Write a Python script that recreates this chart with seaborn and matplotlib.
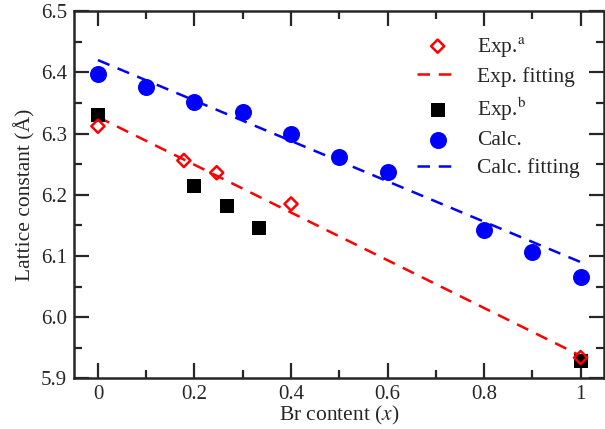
import numpy as np
import pandas as pd
import matplotlib
matplotlib.use("Agg")
import matplotlib.pyplot as plt
import seaborn as sns
from matplotlib.ticker import MultipleLocator

# data
exp_a_x = [0.0, 0.178, 0.246, 0.4, 1.0]
exp_a_y = [6.312, 6.256, 6.236, 6.185, 5.934]
exp_fit_x = [0.0, 1.0]
exp_fit_y = [6.327, 5.937]
exp_b_x = [0.0, 0.2, 0.267, 0.333, 1.0]
exp_b_y = [6.330, 6.214, 6.181, 6.145, 5.928]
calc_x = [0.0, 0.1, 0.2, 0.3, 0.4, 0.5, 0.6, 0.8, 0.9, 1.0]
calc_y = [6.397, 6.376, 6.351, 6.335, 6.300, 6.261, 6.237, 6.142, 6.106, 6.065]
calc_fit_x = [0.0, 1.0]
calc_fit_y = [6.420, 6.090]

sns.set_style("ticks")
plt.rcParams['font.family'] = ['Liberation Serif', 'DejaVu Serif']
plt.rcParams['mathtext.fontset'] = 'stix'

fig, ax = plt.subplots(figsize=(6.05, 4.29), dpi=100)
fig.subplots_adjust(left=0.122, right=0.998, top=0.974, bottom=0.118)

sns.scatterplot(x=exp_a_x, y=exp_a_y, ax=ax, marker='D', s=45,
                facecolor='none', edgecolor='red', linewidth=1.8,
                label=r'Exp.$^{\rm a}$', zorder=4)
sns.lineplot(x=exp_fit_x, y=exp_fit_y, ax=ax, color='red', lw=1.8,
             dashes=(5, 3.5), label='Exp. fitting', zorder=2)
sns.scatterplot(x=exp_b_x, y=exp_b_y, ax=ax, marker='s', s=90,
                color='black', linewidth=0, label=r'Exp.$^{\rm b}$', zorder=3)
sns.scatterplot(x=calc_x, y=calc_y, ax=ax, marker='o', s=150,
                color='blue', linewidth=0, label='Calc.', zorder=3)
sns.lineplot(x=calc_fit_x, y=calc_fit_y, ax=ax, color='blue', lw=1.8,
             dashes=(5, 3.5), label='Calc. fitting', zorder=2)

ax.set_xlim(-0.05, 1.048)
ax.set_ylim(5.9, 6.5)
ax.xaxis.set_major_locator(MultipleLocator(0.2))
ax.xaxis.set_minor_locator(MultipleLocator(0.1))
ax.yaxis.set_major_locator(MultipleLocator(0.1))
ax.yaxis.set_minor_locator(MultipleLocator(0.05))
ax.set_xticks([0, 0.2, 0.4, 0.6, 0.8, 1.0])
ax.set_xticklabels(['0', '0.2', '0.4', '0.6', '0.8', '1'])
ax.set_yticklabels([f'{v:.1f}' for v in ax.get_yticks()])
ax.tick_params(which='both', direction='in', top=True, right=True,
               labelsize=15, width=1.6, pad=5)
ax.tick_params(which='major', length=11)
ax.tick_params(which='minor', length=5.5)
for sp in ax.spines.values():
    sp.set_linewidth(1.8)

ax.set_xlabel(r'Br content ($x$)', fontsize=15.5, labelpad=0)
ax.set_ylabel('Lattice constant (Å)', fontsize=15.5, labelpad=4)

ax.legend(loc='upper right', frameon=False, fontsize=15.5, handlelength=1.9,
          labelspacing=0.36, borderaxespad=0.8, handletextpad=0.9,
          borderpad=0.3)

fig.savefig('out.png', dpi=100)
